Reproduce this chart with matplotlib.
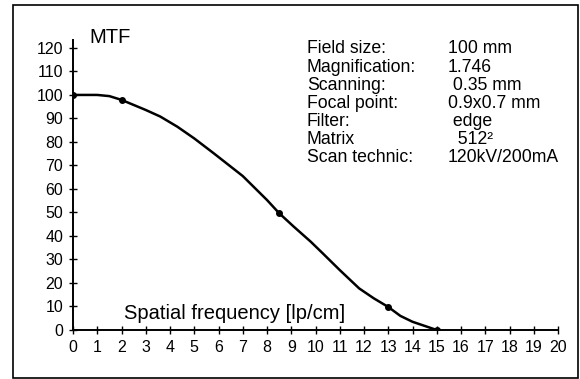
import numpy as np
import matplotlib
matplotlib.use('Agg')
import matplotlib.pyplot as plt
from matplotlib.patches import Rectangle

plt.rcParams['font.family'] = ['Liberation Sans', 'DejaVu Sans']

# MTF curve
freq = [0, 1, 1.5, 2, 3, 3.6, 4.3, 5, 5.8, 7, 8, 8.5, 9.1, 9.8, 10.3, 11, 11.8, 12.4, 13, 13.5, 14, 14.4, 15]
mtf = [100, 100, 99.5, 97.9, 93.6, 90.8, 86.5, 81.5, 75.2, 65.5, 55.3, 49.7, 44, 37.6, 32.6, 25.5, 17.7, 13.5, 9.8, 6, 3.5, 2.1, 0]
mark_freq = [0, 2, 8.5, 13, 15]
mark_mtf = [100, 97.9, 49.7, 9.8, 0]

info_labels = ['Field size:', 'Magnification:', 'Scanning:', 'Focal point:',
               'Filter:', 'Matrix', 'Scan technic:']
info_values = ['100 mm', '1.746', ' 0.35 mm', '0.9x0.7 mm', ' edge', '  512\u00b2', '120kV/200mA']

xticks = list(range(0, 21))
yticks = list(range(0, 121, 10))

W, H = 580, 379
fig = plt.figure(figsize=(W / 100, H / 100), dpi=100)

# outer frame
fig.patches.append(Rectangle((13 / W, 1 - 378 / H), 565 / W, 373 / H,
                             transform=fig.transFigure, fill=False,
                             edgecolor='black', linewidth=1.2))

ax = fig.add_axes([73 / W, 1 - 330 / H, 485 / W, 290.3 / H])
ax.set_xlim(0, 20)
ax.set_ylim(0, 123.5)
ax.plot(freq, mtf, color='black', linewidth=1.8, solid_joinstyle='round')
ax.plot(mark_freq, mark_mtf, 'o', color='black', markersize=4)

for s in ['top', 'right']:
    ax.spines[s].set_visible(False)
for s in ['left', 'bottom']:
    ax.spines[s].set_linewidth(1.4)

ax.set_xticks(xticks)
ax.set_yticks(yticks)
ax.tick_params(axis='both', direction='inout', length=6, width=1,
               labelsize=11.5, colors='black')
ax.tick_params(axis='x', pad=4)
ax.tick_params(axis='y', pad=4)

ax.text(0.67, 122.3, 'MTF', fontsize=14.5, va='baseline', ha='left', clip_on=False)
ax.text(2.1, 4.5, 'Spatial frequency [lp/cm]', fontsize=14.5, va='baseline', ha='left')

for i, (lab, val) in enumerate(zip(info_labels, info_values)):
    yb = 1 - (53.4 + 18.1 * i) / H
    fig.text(307 / W, yb, lab, fontsize=12.7, va='baseline', ha='left')
    fig.text(448 / W, yb, val, fontsize=12.7, va='baseline', ha='left')

fig.savefig('out.png', dpi=100)
